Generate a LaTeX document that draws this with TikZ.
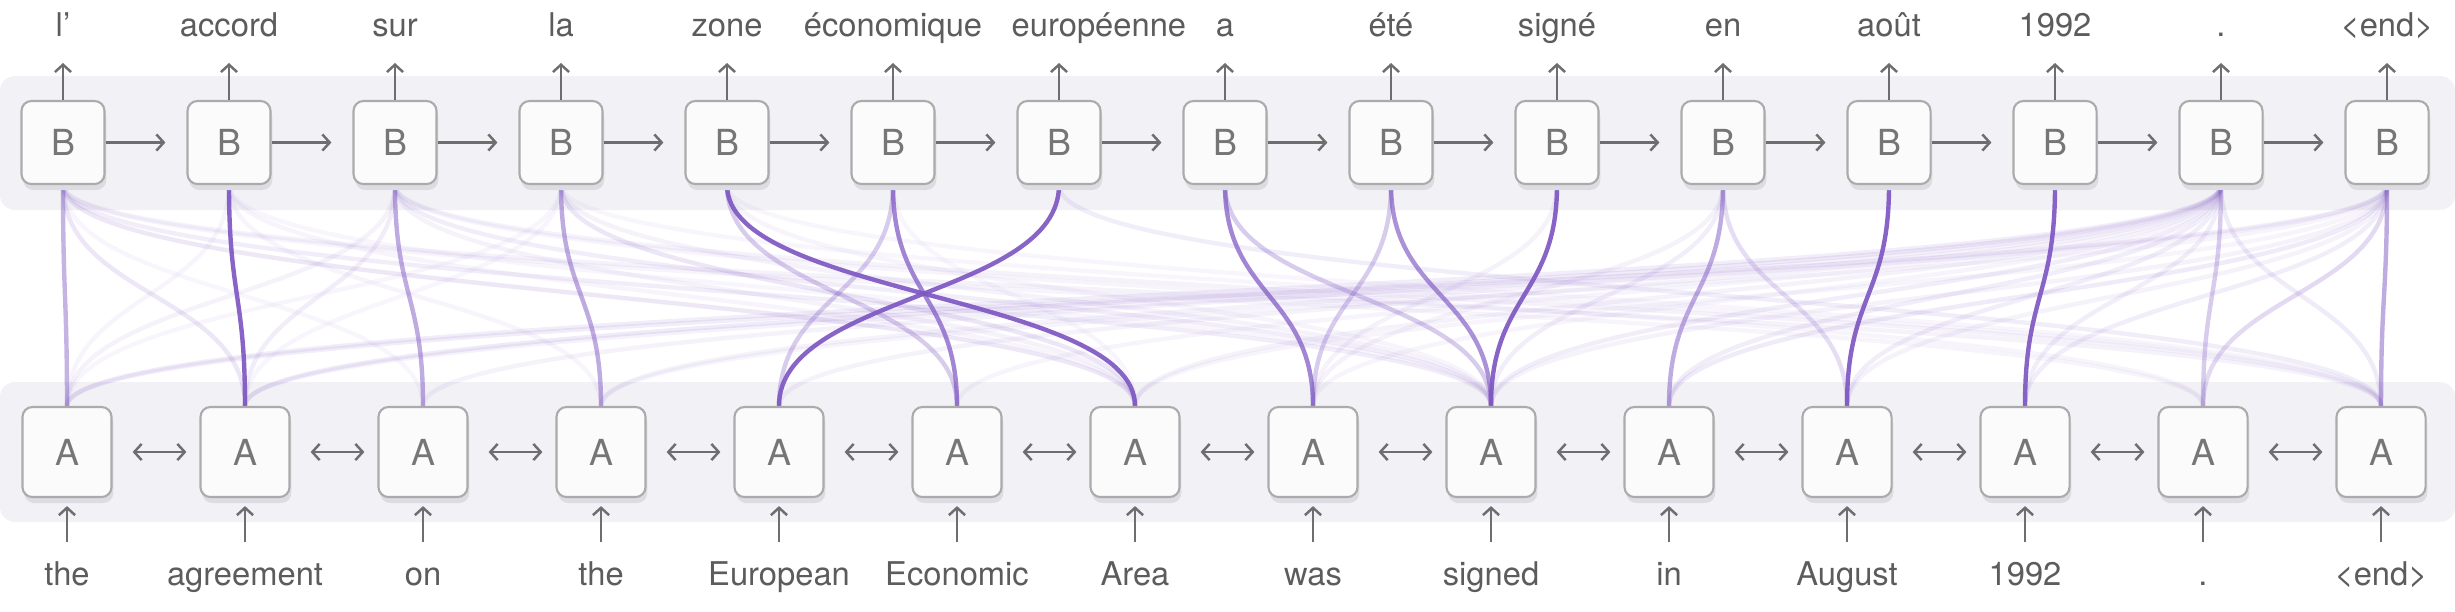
\documentclass[tikz,border=0pt]{standalone}
\usepackage{fontspec}
\setmainfont{TeX Gyre Heros}
\usetikzlibrary{arrows.meta,shadows}
\definecolor{bandc}{HTML}{F2F1F6}
\definecolor{boxfill}{HTML}{FBFBFB}
\definecolor{boxdraw}{HTML}{ABABAB}
\definecolor{shadowc}{HTML}{DDDCE2}
\definecolor{txtc}{HTML}{5C5C5C}
\definecolor{letc}{HTML}{767676}
\definecolor{arrc}{HTML}{6E6E6E}
\definecolor{attc}{HTML}{7E57C2}
\pgfdeclarelayer{bg}
\pgfdeclarelayer{att}
\pgfsetlayers{bg,att,main}
\begin{document}
\begin{tikzpicture}[x=0.01cm,y=-0.01cm,
  cell/.style={draw=boxdraw, fill=boxfill, line width=0.6pt, rounded corners=0.1cm, inner sep=0pt,
    text=letc, font=\fontsize{10.2pt}{12pt}\selectfont,
    general shadow={fill=shadowc, shadow xshift=0.5pt, shadow yshift=-1.7pt}},
  bcell/.style={cell, minimum width=0.83cm, minimum height=0.83cm},
  acell/.style={cell, minimum width=0.89cm, minimum height=0.90cm},
  word/.style={text=txtc, font=\fontsize{9.3pt}{11pt}\selectfont, inner sep=0pt, anchor=base},
  arr/.style={draw=arrc, line width=0.7pt, -{Straight Barb[length=2.1pt,width=4.6pt]}},
  darr/.style={draw=arrc, line width=0.7pt, {Straight Barb[length=2.1pt,width=4.6pt]}-{Straight Barb[length=2.1pt,width=4.6pt]}},
  att/.style={draw=attc, line width=1.25pt}
]
\useasboundingbox (0,0) rectangle (2455,611);
\begin{pgfonlayer}{bg}
\fill[bandc, rounded corners=0.15cm] (0,76) rectangle (2455,210);
\fill[bandc, rounded corners=0.15cm] (0,382) rectangle (2455,522);
\end{pgfonlayer}

% boxes
\foreach \i in {0,...,14} \node[bcell] (b\i) at ({63+166*\i},142.5) {B};
\foreach \i in {0,...,13} \node[acell] (a\i) at ({67+178*\i},452) {A};

% labels
\foreach \w [count=\i from 0] in {l’,accord,sur,la,zone,économique}
  \node[word] (t\i) at ({63+166*\i},36) {\w};
\node[word, anchor=base west] (t6) at (1011,36) {européenne};
\foreach \w [count=\i from 7] in {a,été,signé,en,août,1992,{.},{\textless end\textgreater}}
  \node[word] (t\i) at ({63+166*\i},36) {\w};
\foreach \w [count=\i from 0] in {the,agreement,on,the,European,Economic,Area,was,signed,in,August,1992,{.},{\textless end\textgreater}}
  \node[word] (s\i) at ({67+178*\i},585) {\w};

% output arrows
\foreach \i in {0,...,14} {
  \coordinate (u\i) at ({63+166*\i},63);
  \draw[arr] (b\i) -- (u\i);
}
% input arrows
\foreach \i in {0,...,13} {
  \coordinate (d\i) at ({67+178*\i},542);
  \draw[arr, shorten >=0.08cm] (d\i) -- (a\i);
}
% recurrent arrows
\foreach \i [count=\j from 1] in {0,...,13} \draw[arr, shorten >=0.21cm] (b\i) -- (b\j);
\foreach \i [count=\j from 1] in {0,...,12} \draw[darr, shorten <=0.2cm, shorten >=0.13cm] (a\i) -- (a\j);

% attention
\begin{pgfonlayer}{att}
\foreach \b/\a/\w in {
  0/1/0.15, 0/2/0.05, 0/6/0.14, 0/8/0.1, 0/12/0.06, 0/13/0.08,
  1/0/0.06, 1/3/0.06, 1/6/0.06, 1/8/0.05,
  2/0/0.08, 2/1/0.1, 2/6/0.08, 2/8/0.1, 2/12/0.06, 2/13/0.08,
  3/0/0.05, 3/1/0.05, 3/6/0.15, 3/8/0.08, 3/13/0.05,
  4/8/0.06, 4/13/0.05, 5/6/0.05, 6/13/0.1,
  13/0/0.1, 14/0/0.1, 13/1/0.12, 14/1/0.08, 13/2/0.08, 13/3/0.08, 14/3/0.06,
  13/4/0.08, 13/5/0.06, 13/6/0.08, 14/6/0.06, 9/7/0.08, 10/7/0.08, 13/7/0.06,
  10/8/0.1, 13/8/0.1, 14/8/0.08, 13/9/0.1, 14/9/0.12, 13/10/0.1, 14/10/0.08,
  13/11/0.1, 14/11/0.1,
  4/5/0.3, 5/4/0.3, 7/8/0.3, 8/7/0.3, 13/12/0.3, 14/12/0.22, 10/10/0.2, 13/13/0.12,
  0/0/0.45, 2/2/0.5, 3/3/0.5, 10/9/0.5, 14/13/0.5,
  5/5/0.72, 7/7/0.72, 8/8/0.65,
  1/1/0.92, 4/6/0.92, 6/4/0.92, 9/8/0.92, 11/10/0.92, 12/11/0.92}
  \draw[att, draw opacity=\w] (b\b.south) .. controls +(0,111) and +(0,-111) .. (a\a.north);
\end{pgfonlayer}
\end{tikzpicture}
\end{document}
